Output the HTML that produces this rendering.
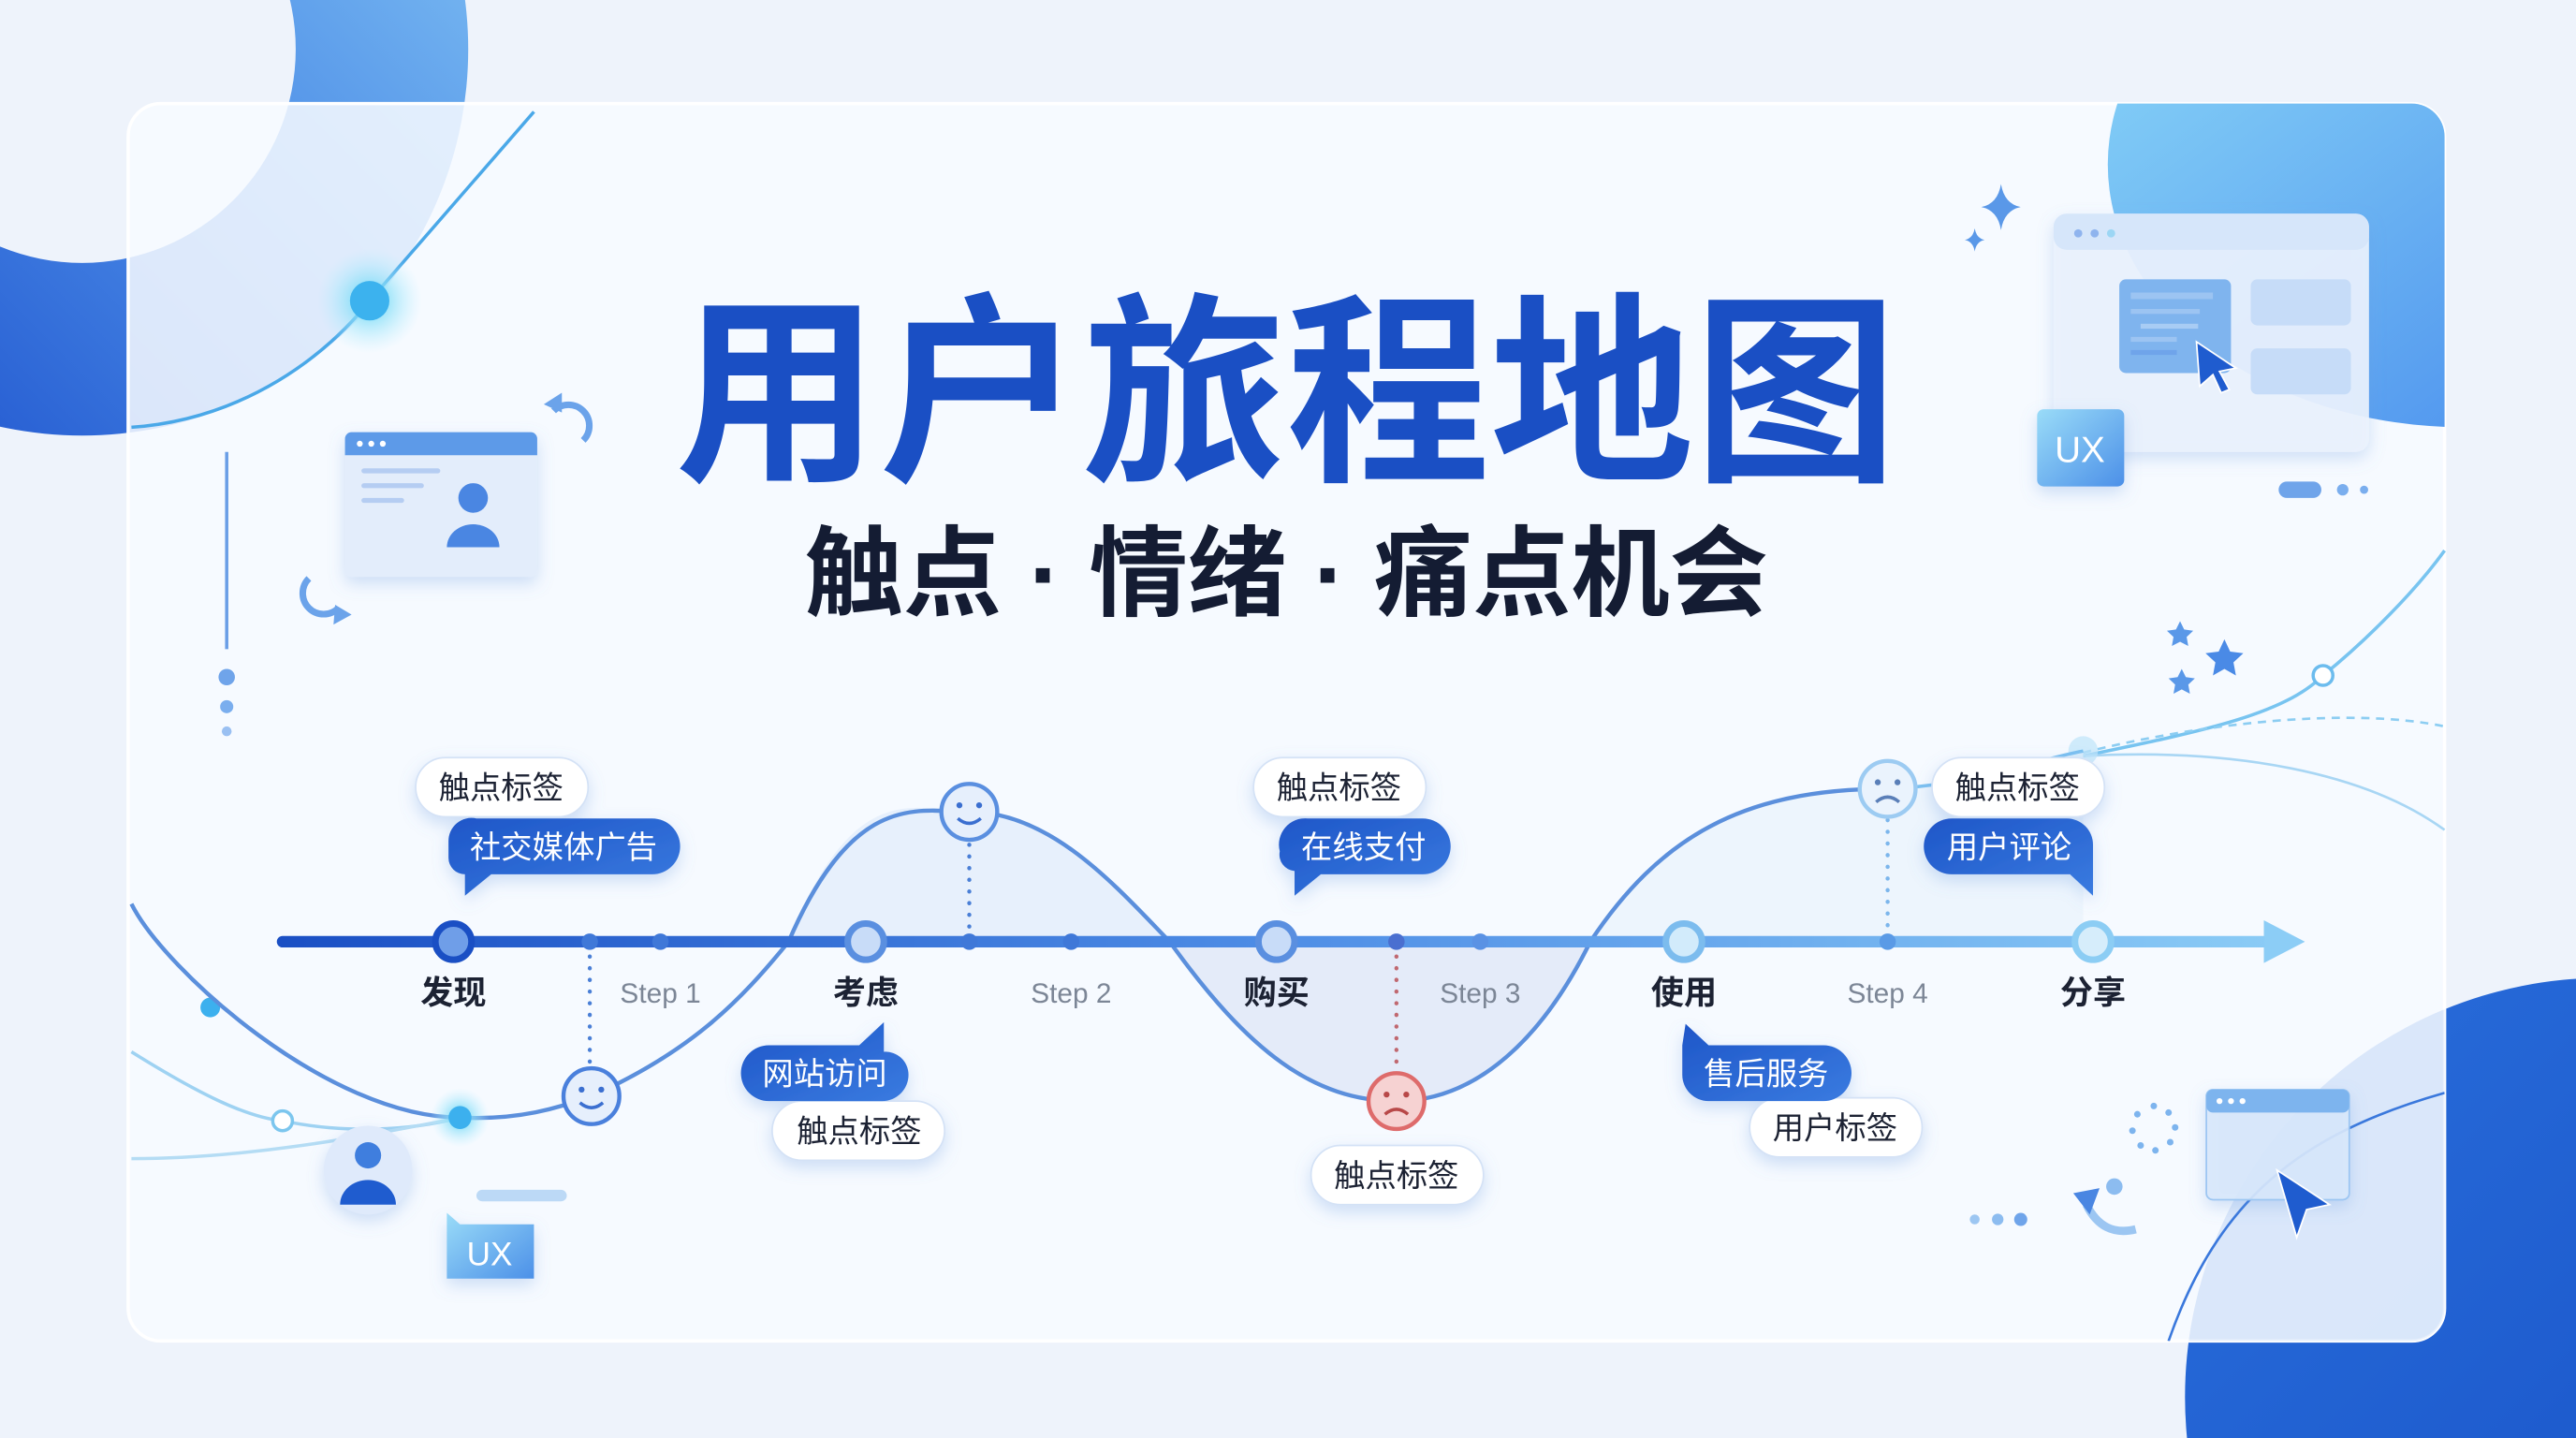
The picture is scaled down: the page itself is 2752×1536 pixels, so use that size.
<!DOCTYPE html>
<html><head><meta charset="utf-8"><style>
html,body{margin:0;padding:0;background:#eef3fb;overflow:hidden;width:2752px;height:1536px}
svg{display:block}
text{font-family:"Liberation Sans","Noto Sans CJK SC",sans-serif}
</style></head><body>
<svg width="2752" height="1536" viewBox="0 0 1568 875" preserveAspectRatio="none" xmlns="http://www.w3.org/2000/svg">
<defs>
<linearGradient id="ring" x1="1" y1="0" x2="0" y2="1"><stop offset="0" stop-color="#8fd0f7"/><stop offset="0.5" stop-color="#4a8ae6"/><stop offset="1" stop-color="#1446c8"/></linearGradient>
<linearGradient id="tr" x1="0" y1="0" x2="1" y2="1"><stop offset="0" stop-color="#8fdcf8"/><stop offset="1" stop-color="#3f82ec"/></linearGradient>
<linearGradient id="br" x1="0" y1="0" x2="1" y2="1"><stop offset="0" stop-color="#2a6fdc"/><stop offset="1" stop-color="#1248c0"/></linearGradient>
<linearGradient id="tl" gradientUnits="userSpaceOnUse" x1="170" y1="0" x2="1400" y2="0"><stop offset="0" stop-color="#1a4fc4"/><stop offset="0.5" stop-color="#4f8ee6"/><stop offset="1" stop-color="#8ccdf6"/></linearGradient>
<linearGradient id="bub" x1="0" y1="0" x2="1" y2="1"><stop offset="0" stop-color="#1e56c8"/><stop offset="1" stop-color="#3a7be0"/></linearGradient>
<linearGradient id="ux" x1="0" y1="0" x2="1" y2="1"><stop offset="0" stop-color="#9adcf8"/><stop offset="1" stop-color="#4c90e8"/></linearGradient>
<radialGradient id="glow"><stop offset="0" stop-color="#5fd6f7"/><stop offset="0.4" stop-color="#8be0f8" stop-opacity="0.7"/><stop offset="1" stop-color="#bfefff" stop-opacity="0"/></radialGradient>
<clipPath id="card"><rect x="78" y="63" width="1410" height="753" rx="20"/></clipPath>
<filter id="sh" x="-30%" y="-30%" width="160%" height="180%"><feDropShadow dx="0" dy="4" stdDeviation="5" flood-color="#6a9be0" flood-opacity="0.3"/></filter>
</defs>
<rect width="1568" height="875" fill="#eef3fb"/>
<path d="M50,30 m-235,0 a235,235 0 1,0 470,0 a235,235 0 1,0 -470,0 Z M50,30 m-130,0 a130,130 0 1,1 260,0 a130,130 0 1,1 -260,0 Z" fill="url(#ring)" fill-rule="evenodd"/>
<circle cx="1585" cy="850" r="255" fill="url(#br)"/>
<rect x="78" y="63" width="1410" height="753" rx="20" fill="#f7faff" fill-opacity="0.86" stroke="#ffffff" stroke-width="2"/>
<g clip-path="url(#card)">
<ellipse cx="1500" cy="100" rx="217" ry="160" fill="url(#tr)"/>
<circle cx="1585" cy="850" r="255" fill="#dbe8fa" fill-opacity="0.6"/>
<path d="M1320,816 C1350,730 1400,690 1488,665" fill="none" stroke="#3a78dc" stroke-width="1.5"/>
</g>
<path d="M80,260 C150,255 200,215 225,183 L325,68" fill="none" stroke="#4aa8e8" stroke-width="2"/>
<circle cx="225" cy="183" r="32" fill="url(#glow)"/>
<circle cx="225" cy="183" r="12" fill="#3cb2ee"/>
<line x1="138" y1="275" x2="138" y2="395" stroke="#6a9ee6" stroke-width="2"/>
<circle cx="138" cy="412" r="5" fill="#6fa4ea"/><circle cx="138" cy="430" r="4" fill="#7aaeee"/><circle cx="138" cy="445" r="3" fill="#9ac0f2"/>
<g filter="url(#sh)"><rect x="210" y="263" width="117" height="88" rx="4" fill="#e3edfb"/></g>
<path d="M214,263 h109 a4,4 0 0 1 4,4 v10 h-117 v-10 a4,4 0 0 1 4,-4z" fill="#5d9ae8"/>
<circle cx="219" cy="270" r="1.8" fill="#fff"/><circle cx="226" cy="270" r="1.8" fill="#fff"/><circle cx="233" cy="270" r="1.8" fill="#fff"/>
<rect x="220" y="285" width="48" height="3" rx="1.5" fill="#b5cdf2"/><rect x="220" y="294" width="38" height="3" rx="1.5" fill="#b5cdf2"/><rect x="220" y="303" width="26" height="3" rx="1.5" fill="#b5cdf2"/>
<circle cx="288" cy="303" r="9" fill="#4a86e2"/><path d="M272,333 a16,14 0 0 1 32,0z" fill="#4a86e2"/>
<path d="M355,268 a12,12 0 0 0 -18,-18" fill="none" stroke="#6ba3ea" stroke-width="4"/><path d="M331,246 l11,-7 l0,12z" fill="#6ba3ea"/>
<path d="M188,352 a12,12 0 0 0 18,18" fill="none" stroke="#6ba3ea" stroke-width="4"/><path d="M214,374 l-11,6 l1,-12z" fill="#6ba3ea"/>
<text x="783" y="283" text-anchor="middle" font-size="124" font-weight="bold" fill="#1a4fc4">用户旅程地图</text>
<text x="783" y="370" text-anchor="middle" font-size="60" font-weight="bold" fill="#141c33">触点 · 情绪 · 痛点机会</text>
<path d="M1218,112 q2,12 12,14 q-10,2 -12,14 q-2,-12 -12,-14 q10,-2 12,-14z" fill="#5a98e8"/>
<path d="M1202,139 q1,6 6,7 q-5,1 -6,7 q-1,-6 -6,-7 q5,-1 6,-7z" fill="#5a98e8"/>
<g filter="url(#sh)"><rect x="1250" y="130" width="192" height="145" rx="8" fill="#eaf2fd" fill-opacity="0.92"/></g>
<rect x="1250" y="130" width="192" height="22" rx="8" fill="#d6e6fa"/>
<circle cx="1265" cy="142" r="2.5" fill="#8fb4ee"/><circle cx="1275" cy="142" r="2.5" fill="#8fb4ee"/><circle cx="1285" cy="142" r="2.5" fill="#9cd6f4"/>
<rect x="1290" y="170" width="68" height="57" rx="4" fill="#7fb4ee"/>
<rect x="1297" y="178" width="50" height="4" fill="#9cc4f2"/><rect x="1297" y="188" width="42" height="3" fill="#9cc4f2"/><rect x="1303" y="197" width="35" height="3" fill="#a8ccf4"/><rect x="1297" y="205" width="28" height="3" fill="#9cc4f2"/><rect x="1297" y="213" width="28" height="3" fill="#6fa4ea"/>
<rect x="1370" y="170" width="61" height="28" rx="4" fill="#c6dcf8"/><rect x="1370" y="212" width="61" height="28" rx="4" fill="#c6dcf8"/>
<path d="M1337,208 l24,16 l-10,2 l6,11 l-5,2 l-5,-11 l-8,7z" fill="#1f5ccf" stroke="#fff" stroke-width="1"/>
<g filter="url(#sh)"><rect x="1240" y="249" width="53" height="47" rx="4" fill="url(#ux)"/></g>
<text x="1266" y="281" text-anchor="middle" font-size="22" fill="#fff">UX</text>
<rect x="1387" y="293" width="26" height="10" rx="5" fill="#6fa4ea"/><circle cx="1426" cy="298" r="3.5" fill="#7aaeee"/><circle cx="1439" cy="298" r="2.5" fill="#7aaeee"/>
<path d="M1327,378 l2.5,5 l5.5,.8 l-4,3.8 l1,5.5 l-5,-2.6 l-5,2.6 l1,-5.5 l-4,-3.8 l5.5,-.8z" fill="#5a98e8"/>
<path d="M1354,389 l3.5,7.5 l8,1 l-6,5.5 l1.5,8 l-7,-4 l-7,4 l1.5,-8 l-6,-5.5 l8,-1z" fill="#4a8ae6"/>
<path d="M1328,407 l2.5,5 l5.5,.8 l-4,3.8 l1,5.5 l-5,-2.6 l-5,2.6 l1,-5.5 l-4,-3.8 l5.5,-.8z" fill="#5a98e8"/>
<path d="M1268,460 C1340,445 1390,435 1414,411 C1440,390 1470,360 1488,335" fill="none" stroke="#78c4f0" stroke-width="2"/>
<path d="M1268,458 C1340,440 1430,430 1488,442" fill="none" stroke="#8ccdf2" stroke-width="1.5" stroke-dasharray="5,4"/>
<path d="M1268,460 C1360,455 1440,470 1488,505" fill="none" stroke="#a8d6f4" stroke-width="1.5"/>
<circle cx="1414" cy="411" r="6" fill="#fff" stroke="#6cbcee" stroke-width="2"/>
<circle cx="1268" cy="457" r="9" fill="#bfe4fa" fill-opacity="0.7"/>
<path d="M80,640 C120,665 150,680 172,682 C210,690 250,688 280,680" fill="none" stroke="#9ed2f2" stroke-width="2"/>
<path d="M80,705 C150,705 220,692 280,680" fill="none" stroke="#b4dcf4" stroke-width="2"/>
<circle cx="172" cy="682" r="6" fill="#fff" stroke="#7cc6ee" stroke-width="2"/>
<circle cx="128" cy="613" r="6" fill="#3cb0ee"/>
<path d="M480,573 C520,470 560,494 590,494 C640,494 680,540 712,573 Z" fill="#dbe8fa" fill-opacity="0.55"/>
<path d="M712,573 C760,640 800,670 850,670 C900,670 940,630 968,573 Z" fill="#dde4f6" fill-opacity="0.7"/>
<path d="M968,573 C1010,510 1060,480 1149,480 C1200,478 1240,462 1268,457 L1268,573 Z" fill="#e3effc" fill-opacity="0.5"/>
<path d="M80,550 C100,590 200,680 280,680 C320,682 345,672 360,667 C420,640 450,610 480,573 C520,480 560,494 590,494 C640,494 680,540 712,573 C760,640 800,670 850,670 C900,670 940,630 968,573 C1010,510 1060,480 1149,480" fill="none" stroke="#5b8fdc" stroke-width="2.5"/>
<path d="M1149,480 C1200,478 1240,462 1268,457" fill="none" stroke="#7cc0f0" stroke-width="2"/>
<circle cx="280" cy="680" r="18" fill="url(#glow)"/><circle cx="280" cy="680" r="7" fill="#3cb0ee"/>
<line x1="172" y1="573" x2="1382" y2="573" stroke="url(#tl)" stroke-width="7" stroke-linecap="round"/>
<path d="M1378,560 L1403,573 L1378,586 Z" fill="#8ccdf6"/>
<line x1="590" y1="514" x2="590" y2="570" stroke="#4a7fd6" stroke-width="2.5" stroke-dasharray="0.1,7" stroke-linecap="round"/>
<line x1="359" y1="582" x2="359" y2="648" stroke="#4a7fd6" stroke-width="2.5" stroke-dasharray="0.1,7" stroke-linecap="round"/>
<line x1="850" y1="582" x2="850" y2="652" stroke="#c06870" stroke-width="2.5" stroke-dasharray="0.1,7" stroke-linecap="round"/>
<line x1="1149" y1="499" x2="1149" y2="570" stroke="#7cb6ec" stroke-width="2.5" stroke-dasharray="0.1,7" stroke-linecap="round"/>
<g fill="#3f78d8"><circle cx="359" cy="573" r="5"/><circle cx="402" cy="573" r="5"/><circle cx="590" cy="573" r="5"/><circle cx="652" cy="573" r="5"/><circle cx="850" cy="573" r="5" fill="#4a6fd0"/><circle cx="901" cy="573" r="5" fill="#5a92e4"/><circle cx="1149" cy="573" r="5" fill="#5a9ae6"/></g>
<circle cx="276" cy="573" r="11" fill="#6f9ee8" stroke="#1a4fc4" stroke-width="4"/>
<circle cx="527" cy="573" r="11" fill="#c8dcf8" stroke="#5a8fe0" stroke-width="4"/>
<circle cx="777" cy="573" r="11" fill="#c8dcf8" stroke="#5a8fe0" stroke-width="4"/>
<circle cx="1025" cy="573" r="11" fill="#d2ebfb" stroke="#7cbcee" stroke-width="4"/>
<circle cx="1274" cy="573" r="11" fill="#d6edfb" stroke="#8ccdf4" stroke-width="4"/>
<g font-size="20" font-weight="bold" fill="#1c2233" text-anchor="middle">
<text x="276" y="611">发现</text><text x="527" y="611">考虑</text><text x="777" y="611">购买</text><text x="1025" y="611">使用</text><text x="1274" y="611">分享</text></g>
<g font-size="17" fill="#7c8696" text-anchor="middle">
<text x="402" y="610">Step 1</text><text x="652" y="610">Step 2</text><text x="901" y="610">Step 3</text><text x="1149" y="610">Step 4</text></g>
<g>
<circle cx="590" cy="494" r="17" fill="#e6effc" stroke="#5a8fe0" stroke-width="2.5"/>
<circle cx="584" cy="490" r="1.8" fill="#3b6fd0"/><circle cx="596" cy="490" r="1.8" fill="#3b6fd0"/><path d="M583,498 q7,6 14,0" fill="none" stroke="#3b6fd0" stroke-width="2"/>
<circle cx="360" cy="667" r="17" fill="#e6effc" stroke="#4a80dc" stroke-width="2.5"/>
<circle cx="354" cy="663" r="1.8" fill="#3b6fd0"/><circle cx="366" cy="663" r="1.8" fill="#3b6fd0"/><path d="M353,671 q7,6 14,0" fill="none" stroke="#3b6fd0" stroke-width="2"/>
<circle cx="850" cy="670" r="17" fill="#f6d2d2" stroke="#de6b6b" stroke-width="2.5"/>
<circle cx="844" cy="666" r="1.8" fill="#b84848"/><circle cx="856" cy="666" r="1.8" fill="#b84848"/><path d="M843,678 q7,-6 14,0" fill="none" stroke="#b84848" stroke-width="2"/>
<circle cx="1149" cy="480" r="17" fill="#eaf3fd" stroke="#9ccbf2" stroke-width="2.5"/>
<circle cx="1143" cy="476" r="1.8" fill="#5a7fb8"/><circle cx="1155" cy="476" r="1.8" fill="#5a7fb8"/><path d="M1142,488 q7,-6 14,0" fill="none" stroke="#5a7fb8" stroke-width="2"/>
</g>
<g font-size="19" text-anchor="middle">
<g filter="url(#sh)">
<rect x="253" y="461" width="105" height="36" rx="18" fill="#fff" stroke="#d4e2f6"/>
<rect x="763" y="461" width="105" height="36" rx="18" fill="#fff" stroke="#d4e2f6"/>
<rect x="1176" y="461" width="105" height="36" rx="18" fill="#fff" stroke="#d4e2f6"/>
<rect x="470" y="670" width="105" height="36" rx="18" fill="#fff" stroke="#d4e2f6"/>
<rect x="798" y="697" width="105" height="36" rx="18" fill="#fff" stroke="#d4e2f6"/>
<rect x="1065" y="668" width="105" height="36" rx="18" fill="#fff" stroke="#d4e2f6"/>
<path d="M290,498 h107 a16,16 0 0 1 0,34 h-98 l-16,13 v-13 a10,10 0 0 1 -10,-10 v-10 a14,14 0 0 1 17,-14z" fill="url(#bub)"/>
<path d="M796,498 h70 a16,16 0 0 1 0,34 h-62 l-16,13 v-15 a10,10 0 0 1 -9,-12 a16,16 0 0 1 17,-20z" fill="url(#bub)"/>
<path d="M1188,498 h70 a16,16 0 0 1 16,16 v18 v13 l-14,-13 h-72 a16,16 0 0 1 0,-34z" fill="url(#bub)"/>
<path d="M468,636 h55 l15,-14 v18 a14,14 0 0 1 15,14 a16,16 0 0 1 -16,16 h-69 a16,16 0 0 1 0,-34z" fill="url(#bub)"/>
<path d="M1026,623 l14,13 h70 a16,16 0 0 1 0,34 h-70 a16,16 0 0 1 -16,-16 v-18z" fill="url(#bub)"/>
</g>
<g fill="#1c2233"><text x="305" y="486">触点标签</text><text x="815" y="486">触点标签</text><text x="1228" y="486">触点标签</text><text x="523" y="695">触点标签</text><text x="850" y="722">触点标签</text><text x="1117" y="693">用户标签</text></g>
<g fill="#fff"><text x="343" y="522">社交媒体广告</text><text x="830" y="522">在线支付</text><text x="1223" y="522">用户评论</text><text x="502" y="660">网站访问</text><text x="1075" y="660">售后服务</text></g>
</g>
<g filter="url(#sh)"><circle cx="224" cy="712" r="27" fill="#dfeafb"/></g>
<circle cx="224" cy="703" r="8" fill="#3f7ede"/><path d="M207,733 a17,15 0 0 1 34,0z" fill="#1f5ccf"/>
<rect x="290" y="724" width="55" height="7" rx="3.5" fill="#bcd9f6"/>
<g filter="url(#sh)"><path d="M272,738 l8,7 h45 v33 h-53z" fill="url(#ux)"/></g>
<text x="298" y="770" text-anchor="middle" font-size="20" fill="#fff">UX</text>
<g filter="url(#sh)"><rect x="1343" y="663" width="87" height="67" rx="4" fill="#d8e8fb" fill-opacity="0.9" stroke="#9cc6f2"/></g>
<rect x="1343" y="663" width="87" height="14" rx="4" fill="#7db4ee"/>
<circle cx="1351" cy="670" r="1.8" fill="#fff"/><circle cx="1358" cy="670" r="1.8" fill="#fff"/><circle cx="1365" cy="670" r="1.8" fill="#fff"/>
<path d="M1386,712 l32,21 l-14,3 l-6,17z" fill="#1f5ccf" stroke="#fff" stroke-width="1"/>
<g fill="#7db4ee"><circle cx="1311" cy="673" r="2"/><circle cx="1320" cy="677" r="2"/><circle cx="1324" cy="686" r="2"/><circle cx="1321" cy="695" r="2"/><circle cx="1312" cy="700" r="2"/><circle cx="1303" cy="697" r="2"/><circle cx="1298" cy="688" r="2"/><circle cx="1301" cy="678" r="2"/></g>
<circle cx="1202" cy="742" r="3" fill="#9cc6f2"/><circle cx="1216" cy="742" r="3.5" fill="#8cbcf0"/><circle cx="1230" cy="742" r="4" fill="#6fa4ea"/>
<path d="M1300,748 q-20,5 -30,-15" fill="none" stroke="#9cc6f2" stroke-width="5"/>
<path d="M1262,726 l16,-3 l-6,16z" fill="#4a86e2"/>
<circle cx="1287" cy="722" r="5" fill="#8cbcf0"/>
</svg>
</body></html>
